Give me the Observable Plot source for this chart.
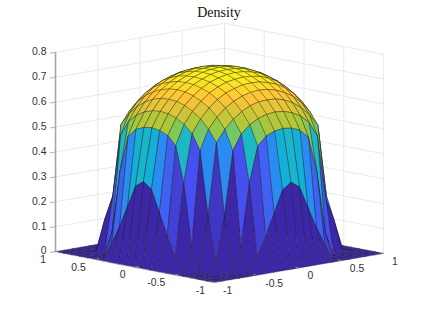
<!DOCTYPE html>
<html>
<head>
<meta charset="utf-8">
<script src="https://cdn.jsdelivr.net/npm/d3@7"></script>
<script src="https://cdn.jsdelivr.net/npm/@observablehq/plot@0.6"></script>
<style>html,body{margin:0;padding:0;background:#fff}svg{display:block}</style>
</head>
<body>
<div id="chart"></div>
<script>
const titleText = "Density";
const xyTicks = [-1, -0.5, 0, 0.5, 1];
const xyTickLabels = ["-1", "-0.5", "0", "0.5", "1"];
const zTicks = [0, 0.1, 0.2, 0.3, 0.4, 0.5, 0.6, 0.7, 0.8];
const zTickLabels = ["0", "0.1", "0.2", "0.3", "0.4", "0.5", "0.6", "0.7", "0.8"];
const gridCoords = [-1,-0.9,-0.8,-0.7,-0.6,-0.5,-0.4,-0.3,-0.2,-0.1,0,0.1,0.2,0.3,0.4,0.5,0.6,0.7,0.8,0.9,1];
// density: rows are x from -1 to 1, columns are y from -1 to 1
const densityGrid = [
  [0,0,0,0,0,0,0,0,0,0,0,0,0,0,0,0,0,0,0,0,0],
  [0,0,0,0,0,0,.063,.138,.225,.313,.338,.313,.225,.138,.063,0,0,0,0,0,0],
  [0,0,0,0,0,.100,.350,.494,.529,.543,.548,.543,.529,.494,.350,.100,0,.010,0,0,0],
  [0,0,0,.038,.225,.481,.543,.574,.593,.604,.608,.604,.593,.574,.543,.481,.225,.130,0,0,0],
  [0,0,0,.225,.513,.561,.596,.621,.638,.648,.650,.648,.638,.621,.596,.561,.513,.225,0,0,0],
  [0,0,.100,.481,.561,.604,.635,.656,.671,.680,.683,.680,.671,.656,.635,.604,.561,.481,.100,0,0],
  [0,.063,.350,.543,.596,.635,.663,.683,.695,.704,.706,.704,.695,.683,.663,.635,.596,.543,.350,.063,0],
  [0,.138,.494,.574,.621,.656,.683,.701,.714,.720,.723,.720,.714,.701,.683,.656,.621,.574,.494,.138,0],
  [0,.225,.529,.593,.638,.671,.695,.714,.725,.733,.735,.733,.725,.714,.695,.671,.638,.593,.529,.225,0],
  [0,.313,.543,.604,.648,.680,.704,.720,.733,.739,.741,.739,.733,.720,.704,.680,.648,.604,.543,.313,0],
  [0,.338,.548,.608,.650,.683,.706,.723,.735,.741,.744,.741,.735,.723,.706,.683,.650,.608,.548,.338,0],
  [0,.313,.543,.604,.648,.680,.704,.720,.733,.739,.741,.739,.733,.720,.704,.680,.648,.604,.543,.313,0],
  [0,.225,.529,.593,.638,.671,.695,.714,.725,.733,.735,.733,.725,.714,.695,.671,.638,.593,.529,.225,0],
  [0,.138,.494,.574,.621,.656,.683,.701,.714,.720,.723,.720,.714,.701,.683,.656,.621,.574,.494,.138,0],
  [0,.063,.350,.543,.596,.635,.663,.683,.695,.704,.706,.704,.695,.683,.663,.635,.596,.543,.350,.063,0],
  [0,0,.100,.481,.561,.604,.635,.656,.671,.680,.683,.680,.671,.656,.635,.604,.561,.481,.100,0,0],
  [0,0,0,.225,.513,.561,.596,.621,.638,.648,.650,.648,.638,.621,.596,.561,.513,.225,0,0,0],
  [0,0,0,.130,.225,.481,.543,.574,.593,.604,.608,.604,.593,.574,.543,.481,.225,.038,0,0,0],
  [0,0,0,.010,0,.100,.350,.494,.529,.543,.548,.543,.529,.494,.350,.100,0,0,0,0,0],
  [0,0,0,0,0,0,.063,.138,.225,.313,.338,.313,.225,.138,.063,0,0,0,0,0,0],
  [0,0,0,0,0,0,0,0,0,0,0,0,0,0,0,0,0,0,0,0,0]
];
const parula = ["#3e26a8","#4752f4","#2d87f7","#12b1d6","#37c897","#abc739","#fec338","#f9fb14"];
const zMax = 0.744;

// MATLAB-like orthographic 3-D view
const az = 43.25 * Math.PI / 180, sinEl = 0.183, zStretch = 2.147;
const projX = (x, y) => x * Math.cos(az) - y * Math.sin(az);
const projY = (x, y, z) => z * zStretch + (x * Math.sin(az) + y * Math.cos(az)) * sinEl;
const pt = (x, y, z, extra) => ({px: projX(x, y), py: projY(x, y, z), ...extra});

// faces painted from the back corner to the front corner, coloured by their front corner
const faces = [];
let faceId = 0;
for (let i = gridCoords.length - 2; i >= 0; i--) {
  for (let j = gridCoords.length - 2; j >= 0; j--) {
    const c = densityGrid[i][j];
    for (const [a, b] of [[i, j], [i + 1, j], [i + 1, j + 1], [i, j + 1]]) {
      faces.push(pt(gridCoords[a], gridCoords[b], densityGrid[a][b], {face: faceId, c}));
    }
    faceId++;
  }
}

// back walls
const grid = [];
let g = 0;
for (const z of zTicks) {
  grid.push(pt(-1, 1, z, {g}), pt(1, 1, z, {g})); g++;
  grid.push(pt(1, 1, z, {g}), pt(1, -1, z, {g})); g++;
}
for (const t of xyTicks) {
  grid.push(pt(t, 1, 0, {g}), pt(t, 1, 0.8, {g})); g++;
  grid.push(pt(1, t, 0, {g}), pt(1, t, 0.8, {g})); g++;
}
const zAxis = [pt(-1, 1, 0), pt(-1, 1, 0.8)];
const zTickSegs = zTicks.flatMap((z, k) => [pt(-1, 1, z, {k}), pt(-1.06, 1, z, {k})]);
const edgeTicks = xyTicks.flatMap((t, k) => [
  pt(t, -1, 0, {k: "x" + k}), pt(t, -0.96, 0, {k: "x" + k}),
  pt(-1, t, 0, {k: "y" + k}), pt(-0.96, t, 0, {k: "y" + k})
]);

const font = "Liberation Sans, Arial, Helvetica, sans-serif";
const zLabels = zTicks.map((z, k) => pt(-1, 1, z, {label: zTickLabels[k]}));
const yLabels = xyTicks.map((t, k) => pt(-1, t, 0, {label: xyTickLabels[k]}));
const xLabels = xyTicks.map((t, k) => pt(t, -1, 0, {label: xyTickLabels[k]}));

const chart = Plot.plot({
  width: 423, height: 317,
  marginTop: 0, marginRight: 0, marginBottom: 0, marginLeft: 0,
  style: {background: "#fff"},
  x: {domain: [-1, 1], range: [103, 335], axis: null},
  y: {domain: [-1, 1], range: [368, 136], axis: null},
  color: {type: "linear", domain: parula.map((_, k) => k / 7 * zMax), range: parula, clamp: true},
  marks: [
    Plot.line(grid, {x: "px", y: "py", z: "g", stroke: "#e4e4e4", strokeWidth: 0.8}),
    Plot.line(zAxis, {x: "px", y: "py", stroke: "#a6a6a6", strokeWidth: 1.6, strokeLinecap: "butt"}),
    Plot.line(zTickSegs, {x: "px", y: "py", z: "k", stroke: "#a6a6a6", strokeWidth: 0.9}),
    Plot.line(faces, {x: "px", y: "py", z: "face", fill: "c", curve: "linear-closed", stroke: "#1a1a1a", strokeWidth: 0.5, strokeOpacity: 0.75, strokeLinejoin: "round"}),
    Plot.line(edgeTicks, {x: "px", y: "py", z: "k", stroke: "#a6a6a6", strokeWidth: 0.7}),
    Plot.text(zLabels, {x: "px", y: "py", text: "label", textAnchor: "end", dx: -9, dy: -0.5, fontSize: 10.4, fontFamily: font, fill: "#333"}),
    Plot.text(yLabels, {x: "px", y: "py", text: "label", textAnchor: "end", dx: -9.5, dy: 8, fontSize: 10.4, fontFamily: font, fill: "#333"}),
    Plot.text(xLabels, {x: "px", y: "py", text: "label", textAnchor: "start", dx: 8.5, dy: 8, fontSize: 10.4, fontFamily: font, fill: "#333"}),
    Plot.text([titleText], {frameAnchor: "top", dy: 7, dx: 7, text: d => d, fontSize: 14, fontFamily: "Liberation Serif, Times New Roman, serif", fill: "#111", lineAnchor: "top"})
  ]
});
document.getElementById("chart").appendChild(chart);
</script>
</body>
</html>
